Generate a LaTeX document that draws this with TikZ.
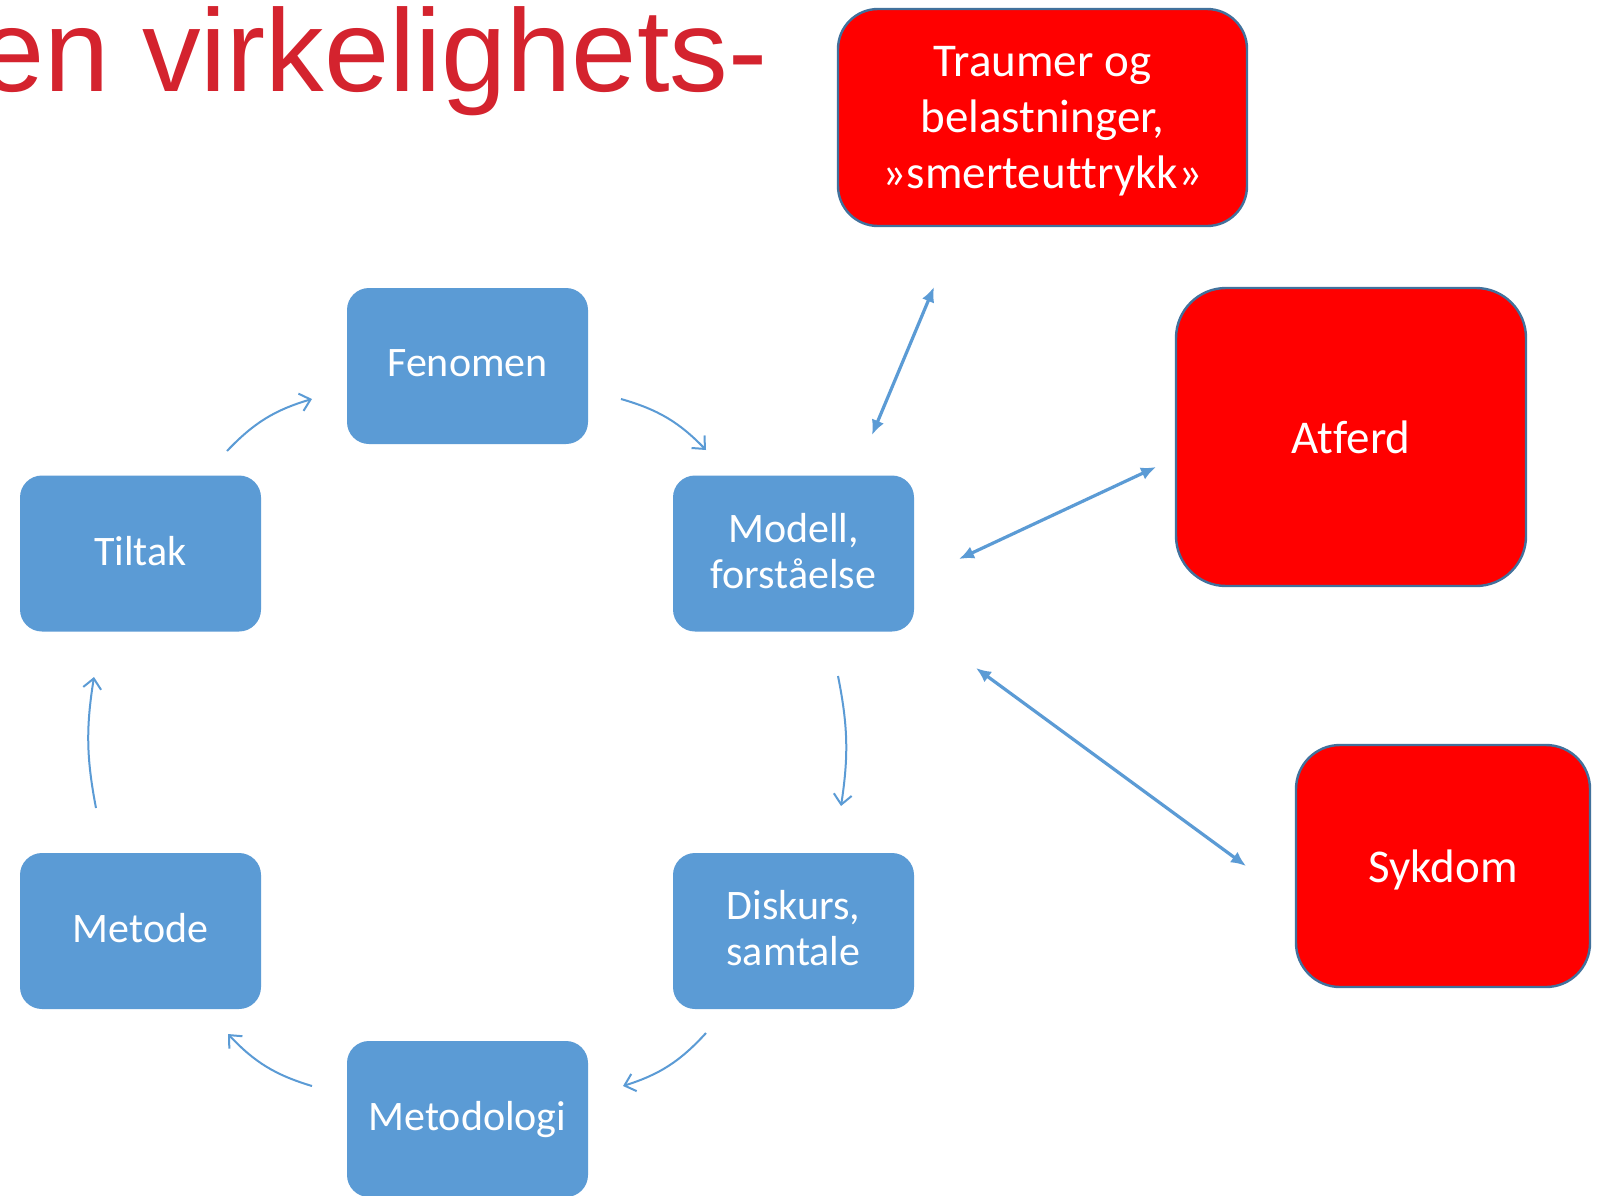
\documentclass[tikz,border=0pt]{standalone}
\usepackage{fontspec}
\setmainfont{Carlito}[Ligatures={NoCommon,NoRequired,NoContextual},RawFeature={-liga;-clig;-dlig}]
\newfontfamily\titlefont{Liberation Sans}
\usetikzlibrary{arrows.meta}
\definecolor{boxblue}{RGB}{91,155,213}
\definecolor{edgeblue}{RGB}{65,113,156}
\definecolor{titlered}{RGB}{212,35,46}
\newcommand{\nolig}{\kern0pt{}}
\begin{document}
\begin{tikzpicture}[x=0.5pt,y=-0.5pt,
  bluebox/.style={rectangle, rounded corners=11pt, fill=boxblue, text=white,
    minimum width=120.5pt, minimum height=78pt, inner sep=0pt, align=center,
    text depth=3pt, font=\fontsize{21}{23}\selectfont},
  redbox/.style={rectangle, fill=red, draw=edgeblue, line width=1.2pt, text=white,
    inner sep=0pt, align=center, text depth=0pt, font=\fontsize{23.5}{28.2}\selectfont},
  cyc/.style={draw=boxblue, line width=1pt, -{Straight Barb[length=5pt,width=9pt]}},
  dbl/.style={draw=boxblue, line width=1.6pt,
    {Latex[length=7.5pt,width=6.5pt]}-{Latex[length=7.5pt,width=6.5pt]}}]
\useasboundingbox (0,0) rectangle (1599,1195);
\clip (0,0) rectangle (1599,1195);
\fill[white] (0,0) rectangle (1599,1195);

% title
\node[anchor=base east, inner sep=0pt, text=titlered,
  font=\titlefont\fontsize{58.6}{60}\selectfont] (title) at (768,91) {en virkelighets-};

% blue boxes
\node[bluebox] (fen) at (467.5,366) {Fenomen};
\node[bluebox] (mod) at (793.5,553.5) {Modell,\\forståelse};
\node[bluebox] (dis) at (793.5,931) {Diskurs,\\samtale};
\node[bluebox] (met) at (467.5,1119) {Metodologi};
\node[bluebox] (mtd) at (140.5,931) {Metode};
\node[bluebox] (til) at (140.5,553.5) {Tiltak};

% red boxes
\node[redbox, rounded corners=20pt, minimum width=204.5pt, minimum height=108.5pt]
  (tra) at (1042.5,117.5) {Traumer og\\belastninger,\\»smerteut\nolig t\nolig rykk»};
\node[redbox, rounded corners=25pt, minimum width=175pt, minimum height=149pt]
  (atf) at (1351,437) {At\nolig ferd};
\node[redbox, rounded corners=22pt, minimum width=147pt, minimum height=121pt]
  (syk) at (1443,866) {Sykdom};

% cycle arrow end points
\coordinate (c1a) at (227,451);  \coordinate (c1b) at (312,399);
\coordinate (c2a) at (621,399);  \coordinate (c2b) at (706,450);
\coordinate (c3a) at (838,676);  \coordinate (c3b) at (841,806);
\coordinate (c4a) at (706,1033); \coordinate (c4b) at (623,1086);
\coordinate (c5a) at (312,1086); \coordinate (c5b) at (228,1034);
\coordinate (c6a) at (96,808);   \coordinate (c6b) at (94,677);

\draw[cyc] (c1a) to[bend left=15] (c1b);
\draw[cyc] (c2a) to[bend left=15] (c2b);
\draw[cyc] (c3a) to[bend left=10] (c3b);
\draw[cyc] (c4a) to[bend left=15] (c4b);
\draw[cyc] (c5a) to[bend left=15] (c5b);
\draw[cyc] (c6a) to[bend left=10] (c6b);

% double arrows
\coordinate (d1a) at (934,287);  \coordinate (d1b) at (872,435);
\coordinate (d2a) at (959,559);  \coordinate (d2b) at (1156,467);
\coordinate (d3a) at (976,668);  \coordinate (d3b) at (1246,866);
\draw[dbl] (d1a) -- (d1b);
\draw[dbl] (d2a) -- (d2b);
\draw[dbl] (d3a) -- (d3b);
\end{tikzpicture}
\end{document}
